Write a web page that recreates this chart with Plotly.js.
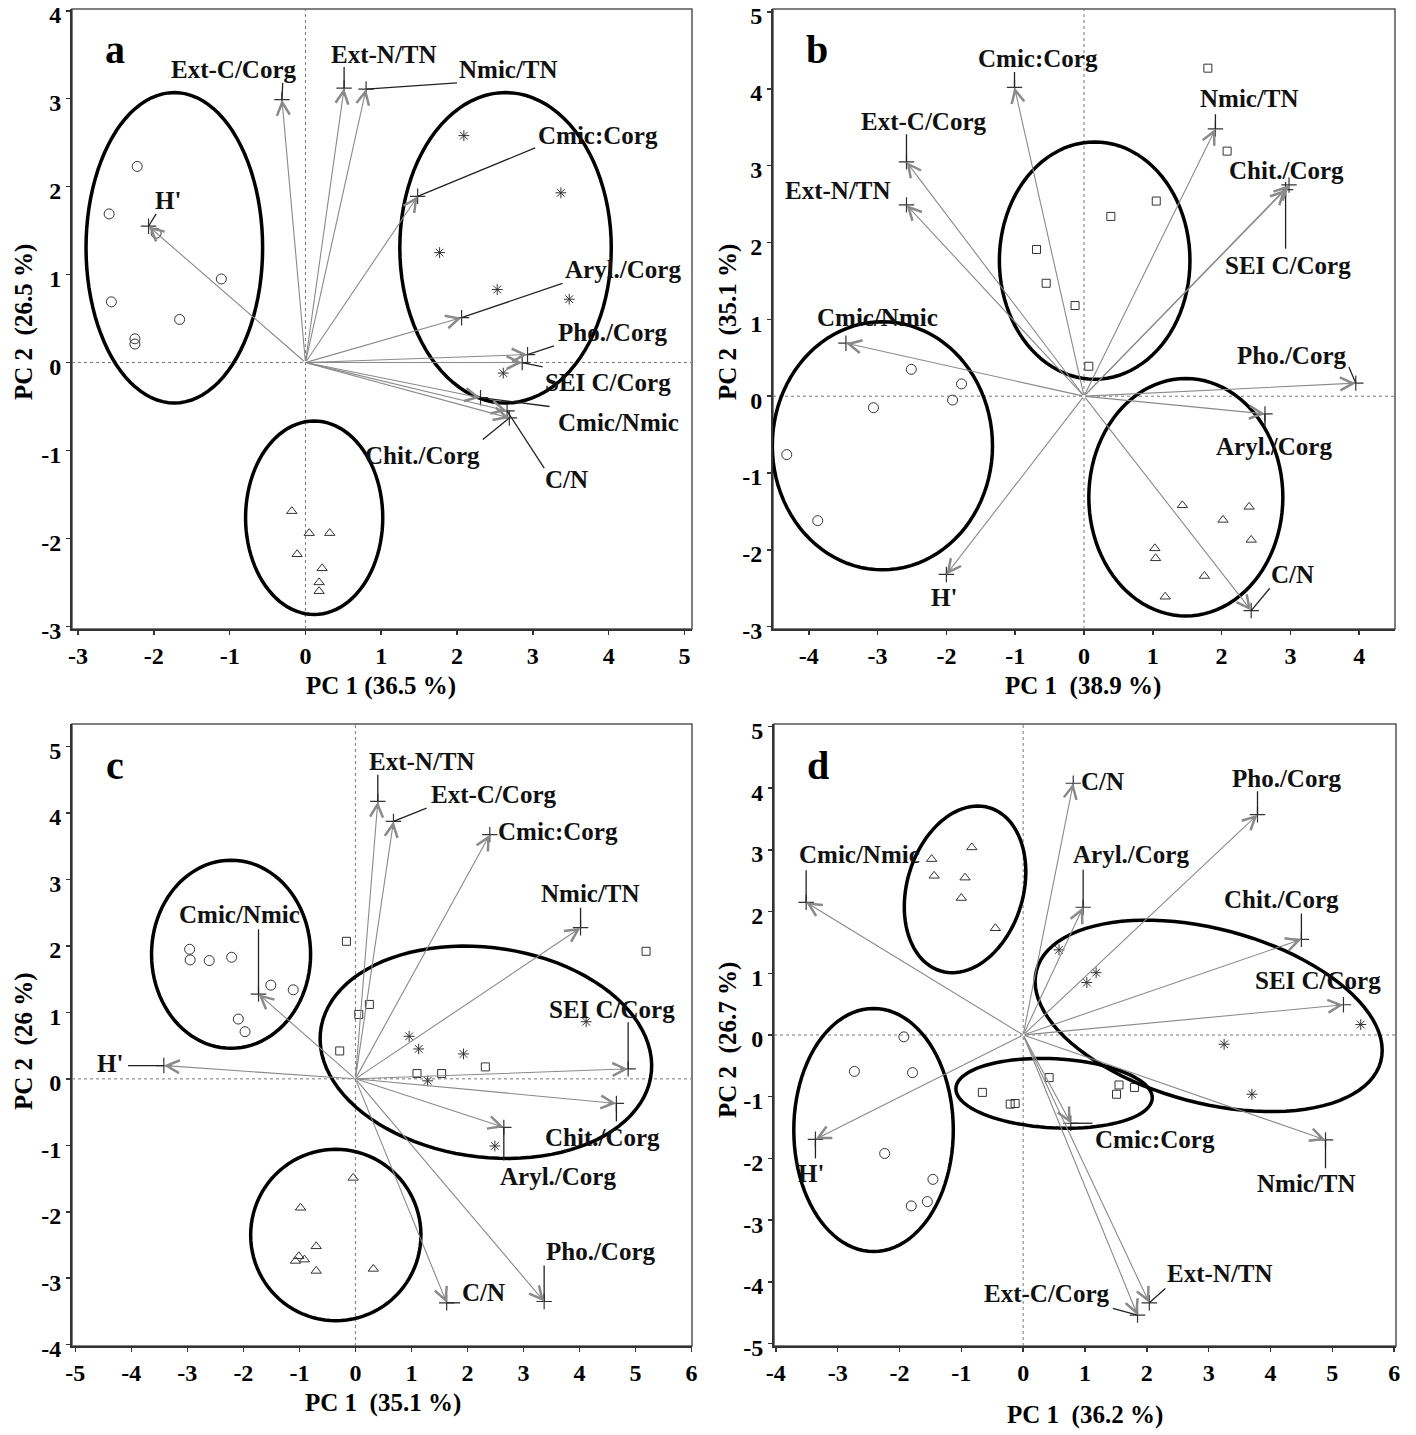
<!DOCTYPE html>
<html><head><meta charset="utf-8">
<script src="https://cdn.plot.ly/plotly-3.0.1.min.js"></script>
<style>html,body{margin:0;padding:0;background:#fff}</style>
</head><body><div id="chart" style="width:1416px;height:1435px"></div>
<script>
// ---------------- DATA ----------------
// Panel a
const varsA = ['Ext-C/Corg','Ext-N/TN','Nmic/TN','Cmic:Corg',"H'",'Aryl./Corg','Pho./Corg','SEI C/Corg','Cmic/Nmic','C/N','Chit./Corg'];
const pc1A = [-0.31, 0.51, 0.80, 1.48, -2.07, 2.06, 2.93, 2.86, 2.31, 2.66, 2.69];
const pc2A = [2.99, 3.12, 3.11, 1.89, 1.55, 0.51, 0.09, 0.00, -0.40, -0.55, -0.63];
const aCircleX = [-2.22,-2.59,-1.97,-1.11,-2.56,-1.66,-2.25,-2.25];
const aCircleY = [2.23,1.69,1.47,0.95,0.69,0.49,0.27,0.21];
const aStarX = [2.09,3.37,1.77,2.53,3.48,2.61];
const aStarY = [2.58,1.93,1.25,0.83,0.72,-0.12];
const aTriX = [-0.18,0.05,0.32,-0.11,0.22,0.18,0.18];
const aTriY = [-1.69,-1.94,-1.94,-2.18,-2.34,-2.50,-2.60];

// Panel b
const varsB = ['Cmic:Corg','Ext-C/Corg','Ext-N/TN','Nmic/TN','Chit./Corg','SEI C/Corg','Cmic/Nmic','Pho./Corg','Aryl./Corg',"H'",'C/N'];
const pc1B = [-1.01, -2.58, -2.58, 1.91, 2.98, 2.93, -3.46, 3.95, 2.63, -2.00, 2.43];
const pc2B = [4.02, 3.05, 2.49, 3.48, 2.75, 2.69, 0.69, 0.17, -0.23, -2.32, -2.79];
const bCircleX = [-2.51,-1.78,-3.06,-1.91,-4.32,-3.87];
const bCircleY = [0.35,0.16,-0.15,-0.05,-0.76,-1.62];
const bTriX = [1.43,2.40,2.02,2.43,1.03,1.04,1.75,1.18];
const bTriY = [-1.42,-1.44,-1.61,-1.87,-1.98,-2.11,-2.34,-2.61];
const bSqX = [1.80,2.08,1.05,0.39,-0.69,-0.55,-0.13,0.07];
const bSqY = [4.27,3.19,2.54,2.34,1.91,1.47,1.18,0.39];

// Panel c
const varsC = ['Ext-N/TN','Ext-C/Corg','Cmic:Corg','Nmic/TN','Cmic/Nmic',"H'",'SEI C/Corg','Chit./Corg','Aryl./Corg','C/N','Pho./Corg'];
const pc1C = [0.40, 0.68, 2.40, 4.02, -1.73, -3.42, 4.87, 4.66, 2.65, 1.63, 3.37];
const pc2C = [4.175, 3.875, 3.675, 2.275, 1.275, 0.20, 0.15, -0.37, -0.73, -3.37, -3.35];
const cCircleX = [-2.96,-2.95,-2.61,-2.21,-1.51,-1.11,-2.09,-1.97];
const cCircleY = [1.95,1.79,1.78,1.83,1.41,1.34,0.90,0.71];
const cSqX = [-0.16,0.25,0.06,-0.28,5.19,1.10,1.54,2.32];
const cSqY = [2.07,1.12,0.97,0.42,1.92,0.08,0.08,0.18];
const cStarX = [0.96,1.13,1.93,4.12,1.29,2.49];
const cStarY = [0.64,0.45,0.375,0.86,-0.03,-1.01];
const cTriX = [-0.04,-0.98,-0.70,-1.01,-0.91,-1.07,-0.70,0.32];
const cTriY = [-1.49,-1.94,-2.52,-2.67,-2.72,-2.74,-2.89,-2.86];

// Panel d
const varsD = ['C/N','Pho./Corg','Cmic/Nmic','Aryl./Corg','Chit./Corg','SEI C/Corg',"H'",'Cmic:Corg','Nmic/TN','Ext-N/TN','Ext-C/Corg'];
const pc1D = [0.81, 3.79, -3.51, 0.97, 4.50, 5.18, -3.36, 0.77, 4.89, 2.04, 1.85];
const pc2D = [4.08, 3.57, 2.15, 2.07, 1.55, 0.49, -1.69, -1.43, -1.70, -4.34, -4.54];
const dTriX = [-1.48,-0.83,-1.44,-0.94,-1.00,-0.45];
const dTriY = [2.85,3.04,2.58,2.55,2.22,1.73];
const dStarX = [0.58,1.18,1.03,5.46,3.25,3.70];
const dStarY = [1.38,1.01,0.85,0.17,-0.15,-0.96];
const dCircleX = [-1.93,-2.73,-1.79,-2.24,-1.46,-1.81,-1.55];
const dCircleY = [-0.03,-0.59,-0.61,-1.92,-2.34,-2.77,-2.70];
const dSqX = [-0.66,-0.21,-0.13,0.42,1.55,1.51,1.80];
const dSqY = [-0.93,-1.12,-1.11,-0.69,-0.81,-0.96,-0.85];

// ---------------- LAYOUT CONFIG (placement only) ----------------
// label placement: [labelX, labelY, leaderEndX, leaderEndY] (null = no leader)
const labA = {'Ext-C/Corg':[-0.95,3.33,-0.30,3.18],'Ext-N/TN':[1.03,3.50,0.51,3.36],'Nmic/TN':[2.68,3.33,2.0,3.18],
  'Cmic:Corg':[3.86,2.58,3.03,2.44],"H'":[-1.81,1.84,-1.97,1.69],'Aryl./Corg':[4.19,1.06,3.39,0.90],
  'Pho./Corg':[4.06,0.34,3.28,0.19],'SEI C/Corg':[3.99,-0.23,3.13,-0.05],'Cmic/Nmic':[4.13,-0.68,3.22,-0.50],
  'C/N':[3.44,-1.33,3.15,-1.20],'Chit./Corg':[1.55,-1.06,2.34,-0.875]};
const labB = {'Cmic:Corg':[-0.67,4.39,-1.01,4.22],'Ext-C/Corg':[-2.33,3.57,-2.58,3.41],'Ext-N/TN':[-3.57,2.68,null,null],
  'Nmic/TN':[2.40,3.87,1.91,3.67],'Chit./Corg':[2.95,2.94,null,null],'SEI C/Corg':[2.96,1.70,2.93,1.92],
  'Cmic/Nmic':[-3.0,1.03,null,null],'Pho./Corg':[3.03,0.53,3.85,0.38],'Aryl./Corg':[2.76,-0.65,2.63,-0.40],
  "H'":[-2.03,-2.62,null,null],'C/N':[3.03,-2.32,2.70,-2.50]};
const labC = {'Ext-N/TN':[1.19,4.775,0.40,4.575],'Ext-C/Corg':[2.47,4.275,1.27,4.075],'Cmic:Corg':[3.62,3.725,null,null],
  'Nmic/TN':[4.20,2.79,4.02,2.575],'Cmic/Nmic':[-2.07,2.475,-1.73,2.25],"H'":[-4.38,0.225,-4.06,0.20],
  'SEI C/Corg':[4.58,1.04,4.87,0.85],'Chit./Corg':[4.42,-0.88,4.66,-0.64],'Aryl./Corg':[3.62,-1.47,2.65,-1.23],
  'C/N':[2.29,-3.22,1.87,-3.37],'Pho./Corg':[4.38,-2.60,3.37,-2.81]};
const labD = {'C/N':[1.28,4.11,null,null],'Pho./Corg':[4.26,4.16,3.79,3.95],'Cmic/Nmic':[-2.64,2.92,-3.51,2.67],
  'Aryl./Corg':[1.75,2.92,0.97,2.68],'Chit./Corg':[4.18,2.19,4.50,1.97],'SEI C/Corg':[4.77,0.89,null,null],
  "H'":[-3.43,-2.24,-3.36,-2.0],'Cmic:Corg':[2.14,-1.70,1.12,-1.43],'Nmic/TN':[4.58,-2.41,4.89,-2.16],
  'Ext-N/TN':[3.19,-3.86,2.30,-4.11],'Ext-C/Corg':[0.37,-4.19,1.45,-4.43]};

// group ellipses: [cx, cy, semi-axis a, semi-axis b, angle deg]
const ellA = [[-1.73,1.305,1.165,1.765,0],[2.64,1.305,1.395,1.765,0],[0.115,-1.765,0.905,1.1,0]];
const ellB = [[0.155,1.765,1.385,1.545,0],[-2.93,-0.645,1.6,1.615,0],[1.48,-1.315,1.41,1.545,0]];
const ellC = [[-2.22,1.875,1.42,1.415,0],[2.33,0.40,2.97,1.58,-5.5],[-0.35,-2.35,1.52,1.29,0]];
const ellD = [[-0.94,2.36,1.38,0.94,73.5],[-2.42,-1.54,1.29,1.97,0],[0.5,-0.945,1.59,0.56,-3],[3.0,0.31,2.88,1.41,-14.9]];

const FONT = 'Liberation Serif, Times New Roman, serif';
const W = 1416, H = 1435;
function px2fx(p){return p/W;}
function py2fy(p){return 1-p/H;}
function range(a,b){const r=[];for(let i=a;i<=b;i++)r.push(i);return r;}

const SYM = {
  circle:{symbol:'circle-open',size:10},
  tri:{symbol:'triangle-up-open',size:9},
  sq:{symbol:'square-open',size:8},
  star:{symbol:'asterisk-open',size:9}
};

const panels = [
 {letter:'a', xk:'x', yk:'y', xd:[72,692], yd:[9,629], xr:[-3.08,5.10], yr:[-3.03,4.02], xt:range(-3,5), yt:range(-3,4),
  vars:varsA, p1:pc1A, p2:pc2A, labs:labA, ell:ellA,
  groups:[[aCircleX,aCircleY,'circle'],[aStarX,aStarY,'star'],[aTriX,aTriY,'tri']],
  xtitle:'PC 1 (36.5 %)', ytitle:'PC 2\u00a0 (26.5 %)', xtp:[381,686], ytp:[24,322]},
 {letter:'b', xk:'x2', yk:'y2', xd:[773,1395], yd:[9,629], xr:[-4.52,4.52], yr:[-3.03,5.04], xt:range(-4,4), yt:range(-3,5),
  vars:varsB, p1:pc1B, p2:pc2B, labs:labB, ell:ellB,
  groups:[[bCircleX,bCircleY,'circle'],[bTriX,bTriY,'tri'],[bSqX,bSqY,'sq']],
  xtitle:'PC 1\u00a0 (38.9 %)', ytitle:'PC 2\u00a0 (35.1 %)', xtp:[1083,686], ytp:[728,322]},
 {letter:'c', xk:'x3', yk:'y3', xd:[72,692], yd:[724,1346], xr:[-5.06,6.01], yr:[-4.02,5.34], xt:range(-5,6), yt:range(-4,5),
  vars:varsC, p1:pc1C, p2:pc2C, labs:labC, ell:ellC,
  groups:[[cCircleX,cCircleY,'circle'],[cSqX,cSqY,'sq'],[cStarX,cStarY,'star'],[cTriX,cTriY,'tri']],
  xtitle:'PC 1\u00a0 (35.1 %)', ytitle:'PC 2\u00a0 (26 %)', xtp:[383,1403], ytp:[24,1042]},
 {letter:'d', xk:'x4', yk:'y4', xd:[774,1396], yd:[724,1346], xr:[-4.03,6.03], yr:[-5.04,5.04], xt:range(-4,6), yt:range(-5,5),
  vars:varsD, p1:pc1D, p2:pc2D, labs:labD, ell:ellD,
  groups:[[dTriX,dTriY,'tri'],[dStarX,dStarY,'star'],[dCircleX,dCircleY,'circle'],[dSqX,dSqY,'sq']],
  xtitle:'PC 1\u00a0 (36.2 %)', ytitle:'PC 2\u00a0 (26.7 %)', xtp:[1085,1415], ytp:[728,1040]}
];

function ellipsePath(cx,cy,a,b,deg){
  const t=deg*Math.PI/180; let d='';
  for(let i=0;i<=96;i++){
    const u=2*Math.PI*i/96;
    const x=cx+a*Math.cos(t)*Math.cos(u)-b*Math.sin(t)*Math.sin(u);
    const y=cy+a*Math.sin(t)*Math.cos(u)+b*Math.cos(t)*Math.sin(u);
    d+=(i?'L':'M')+x.toFixed(4)+','+y.toFixed(4);
  }
  return d+'Z';
}

const traces=[], shapes=[], annotations=[];
const layout = {width:W, height:H, margin:{l:0,r:0,t:0,b:0}, paper_bgcolor:'#fff', plot_bgcolor:'#fff', showlegend:false};

panels.forEach((p,i)=>{
  const xkey = 'xaxis'+(i?i+1:''), ykey='yaxis'+(i?i+1:'');
  const tf = {family:FONT,size:24,color:'#000',weight:'bold'};
  const common = {tickmode:'array', ticks:'outside', ticklen:4, tickwidth:1.5, tickcolor:'#333', showline:true,
    linecolor:'#333', linewidth:2, showgrid:false, zeroline:false, tickfont:tf, fixedrange:true, ticklabeloverflow:'allow'};
  layout[xkey] = Object.assign({domain:[px2fx(p.xd[0]),px2fx(p.xd[1])], range:p.xr, anchor:p.yk, tickvals:p.xt,
    ticktext:p.xt.map(v=>String(v))}, common);
  layout[ykey] = Object.assign({domain:[py2fy(p.yd[1]),py2fy(p.yd[0])], range:p.yr, anchor:p.xk, tickvals:p.yt,
    ticktext:p.yt.map(v=>String(v)), ticklabelshift:4}, common);

  // frame
  shapes.push({type:'rect', xref:p.xk+' domain', yref:p.yk+' domain', x0:0,x1:1,y0:0,y1:1, line:{color:'#555',width:1.5}, layer:'below'});
  // dotted zero lines
  shapes.push({type:'line', xref:p.xk, yref:p.yk+' domain', x0:0,x1:0,y0:0,y1:1, line:{color:'#777',width:1,dash:'dot'}, layer:'below'});
  shapes.push({type:'line', xref:p.xk+' domain', yref:p.yk, x0:0,x1:1,y0:0,y1:0, line:{color:'#777',width:1,dash:'dot'}, layer:'below'});

  // group ellipses
  p.ell.forEach(e=>{
    shapes.push({type:'path', xref:p.xk, yref:p.yk, path:ellipsePath(...e), line:{color:'#000',width:3.5}, layer:'above'});
  });

  // scores
  p.groups.forEach(g=>{
    const s=SYM[g[2]];
    traces.push({type:'scatter', mode:'markers', x:g[0], y:g[1], xaxis:p.xk, yaxis:p.yk, hoverinfo:'skip',
      marker:{symbol:s.symbol, size:s.size, color:'#333', line:{color:'#333',width:1}}});
  });

  // loading arrows from origin
  p.vars.forEach((v,k)=>{
    annotations.push({xref:p.xk, yref:p.yk, axref:p.xk, ayref:p.yk, x:p.p1[k], y:p.p2[k], ax:0, ay:0, text:'',
      showarrow:true, arrowhead:5, arrowsize:2.3, arrowwidth:1.1, arrowcolor:'#8a8a8a', standoff:0, startstandoff:0});
    const L = p.labs[v];
    if(L[2]!==null){
      shapes.push({type:'line', xref:p.xk, yref:p.yk, x0:p.p1[k], y0:p.p2[k], x1:L[2], y1:L[3], line:{color:'#222',width:1.3}, layer:'above'});
    }
    annotations.push({xref:p.xk, yref:p.yk, x:L[0], y:L[1], text:v, showarrow:false, xanchor:'center', yanchor:'middle',
      font:{family:FONT,size:25,color:'#111',weight:'bold'}});
  });
  // tip crosses
  traces.push({type:'scatter', mode:'markers', x:p.p1, y:p.p2, xaxis:p.xk, yaxis:p.yk, hoverinfo:'skip',
    marker:{symbol:'cross-thin-open', size:11, color:'#333', line:{color:'#333',width:1.2}}});

  // panel letter
  annotations.push({xref:p.xk+' domain', yref:p.yk+' domain', x:0.07, y:0.934, text:p.letter, showarrow:false,
    xanchor:'center', yanchor:'middle', font:{family:FONT,size:40,color:'#000',weight:'bold'}});
  // axis titles
  annotations.push({xref:'paper', yref:'paper', x:px2fx(p.xtp[0]), y:py2fy(p.xtp[1]), text:p.xtitle, showarrow:false,
    xanchor:'center', yanchor:'middle', font:{family:FONT,size:25,color:'#000',weight:'bold'}});
  annotations.push({xref:'paper', yref:'paper', x:px2fx(p.ytp[0]), y:py2fy(p.ytp[1]), text:p.ytitle, showarrow:false, textangle:-90,
    xanchor:'center', yanchor:'middle', font:{family:FONT,size:25,color:'#000',weight:'bold'}});
});

layout.shapes=shapes; layout.annotations=annotations;
Plotly.newPlot('chart', traces, layout, {staticPlot:true, displayModeBar:false});
</script></body></html>
